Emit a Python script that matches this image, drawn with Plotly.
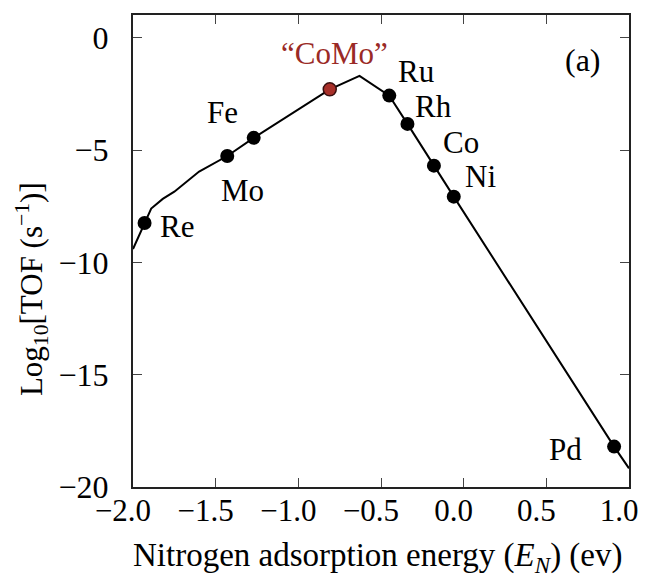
import plotly.graph_objects as go

# Volcano curve (line) data
curve_x = [-2.0, -1.93, -1.89, -1.82, -1.75, -1.6, -1.43, -1.27, -0.81, -0.63, -0.45, -0.34, -0.18, -0.06, 0.91, 1.0]
curve_y = [-9.4, -8.24, -7.6, -7.17, -6.85, -5.95, -5.26, -4.45, -2.29, -1.69, -2.57, -3.83, -5.69, -7.07, -18.2, -19.17]

# Metal points
metals = ["Re", "Mo", "Fe", "Ru", "Rh", "Co", "Ni", "Pd"]
metal_x = [-1.93, -1.43, -1.27, -0.45, -0.34, -0.18, -0.06, 0.91]
metal_y = [-8.24, -5.26, -4.45, -2.57, -3.83, -5.69, -7.07, -18.2]

como_name = "“CoMo”"
como_x = [-0.81]
como_y = [-2.29]

x_ticks = [-2.0, -1.5, -1.0, -0.5, 0.0, 0.5, 1.0]
y_ticks = [0, -5, -10, -15, -20]

# label offsets in pixels (styling)
label_offsets = {
    "Re": (32, -4), "Mo": (15, -34), "Fe": (-31, 25), "Ru": (27, 24),
    "Rh": (26, 17), "Co": (27, 23), "Ni": (27, 20), "Pd": (-49, -3),
}

FONT = "Liberation Serif"
fs = 31

fig = go.Figure()
fig.add_trace(go.Scatter(x=curve_x, y=curve_y, mode="lines",
                         line=dict(color="black", width=2), hoverinfo="skip"))
fig.add_trace(go.Scatter(x=metal_x, y=metal_y, mode="markers",
                         marker=dict(color="black", size=14)))
fig.add_trace(go.Scatter(x=como_x, y=como_y, mode="markers",
                         marker=dict(color="#a8302a", size=13,
                                     line=dict(color="#3a1010", width=1.5))))

for name, x, y in zip(metals, metal_x, metal_y):
    dx, dy = label_offsets[name]
    fig.add_annotation(x=x, y=y, text=name, showarrow=False, xshift=dx, yshift=dy,
                       xanchor="center", yanchor="middle",
                       font=dict(family=FONT, size=fs, color="black"))

fig.add_annotation(x=como_x[0], y=como_y[0], text=como_name, showarrow=False,
                   xshift=5, yshift=36, xanchor="center", yanchor="middle",
                   font=dict(family=FONT, size=fs, color="#9a2a26"))
fig.add_annotation(xref="paper", yref="paper", x=0.907, y=0.905, text="(a)",
                   xanchor="center", yanchor="middle",
                   showarrow=False, font=dict(family=FONT, size=32, color="black"))

# axis titles as annotations (positioned like the reference)
fig.add_annotation(xref="paper", yref="paper", x=-0.205, y=0.42,
                   xanchor="center", yanchor="middle",
                   text="Log<sub>10</sub>[TOF (s<sup>−1</sup>)]", textangle=-90,
                   showarrow=False, font=dict(family=FONT, size=31, color="black"))
fig.add_annotation(xref="paper", yref="paper", x=0.494, y=-0.149,
                   xanchor="center", yanchor="middle",
                   text="Nitrogen adsorption energy (<i>E<sub>N</sub></i>) (ev)",
                   showarrow=False, font=dict(family=FONT, size=33, color="black"))

axis_common = dict(showline=True, linecolor="#222", linewidth=2, mirror="ticks",
                   ticks="inside", ticklen=9, tickwidth=1, tickcolor="#444",
                   showgrid=False, zeroline=False, automargin=False,
                   tickfont=dict(family=FONT, size=32, color="black"))

# The page body has an 8px margin, so the figure is made 8px smaller and the
# plot area is placed so it lands where the reference has it.
fig.update_layout(
    width=638, height=571,
    margin=dict(l=125, r=17, t=7, b=92),
    paper_bgcolor="white", plot_bgcolor="white",
    showlegend=False,
    xaxis=dict(range=[-2.0, 1.0], tickvals=x_ticks,
               ticktext=[f"{v:.1f}".replace("-", "−") for v in x_ticks],
               ticklabelstandoff=-5, ticklabelshift=-10,
               **axis_common),
    yaxis=dict(range=[-20, 1.02], tickvals=y_ticks,
               ticktext=[str(v).replace("-", "−") for v in y_ticks],
               ticklabelstandoff=16,
               **axis_common),
)
fig.update_xaxes(tickfont=dict(size=31))

fig.write_html("out.html")
